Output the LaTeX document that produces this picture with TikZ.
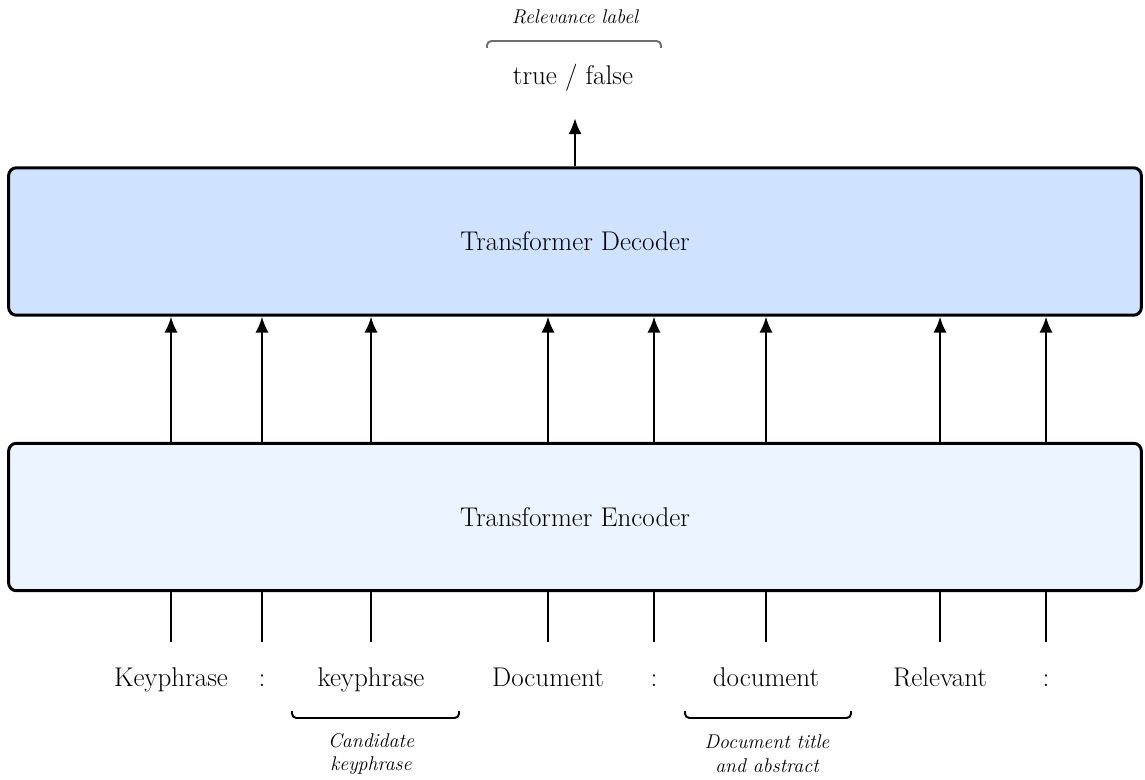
\documentclass[tikz,border=0pt]{standalone}
\usepackage{fontspec}
\usepackage{tikz}
\usetikzlibrary{arrows.meta}

\definecolor{decfill}{RGB}{207,226,255}
\definecolor{encfill}{RGB}{236,244,255}
\definecolor{bracketgray}{RGB}{110,110,110}

\begin{document}
\begin{tikzpicture}[x=0.02cm,y=-0.02cm,>={Latex[length=9pt,width=7.5pt]},
	block/.style={draw, line width=1.7pt, rounded corners=4.5pt, minimum width=22.66cm, minimum height=2.95cm, font=\fontsize{15.4}{18}\selectfont},
	token/.style={minimum height=1.52cm, inner sep=0pt, text height=11pt, text depth=3.5pt, font=\fontsize{15.4}{18}\selectfont},
	note/.style={align=center, inner sep=0pt, font=\fontsize{11.3}{13.6}\itshape\selectfont},
	bracket/.style={line width=1.1pt, rounded corners=2.5pt},
	link/.style={line width=1.1pt}]
				\useasboundingbox (0,0) rectangle (1145,780);

				\node[block, fill=decfill]   (dec) at (575,241.5)  {Transformer Decoder};
				\node[block, fill=encfill]   (enc) at (575,517)    {Transformer Encoder};

				\node[token]         (t1) at (171,680)   {Keyphrase};
				\node[token]         (t2) at (262,680)   {:};
				\node[token]         (t3) at (371,680)   {keyphrase};
				\node[token]         (t4) at (548,680)   {Document};
				\node[token]         (t5) at (654,680)   {:};
				\node[token]         (t6) at (766,680)   {document};
				\node[token]         (t7) at (940,680)   {Relevant};
				\node[token]         (t8) at (1046,680)  {:};

				\node[token, minimum height=1.6cm] (out) at (573,78) {true / false};

				\node[note]          (relnote)  at (575,17)   {Relevance label};
				\node[note]          (candnote) at (371,754)  {Candidate\\keyphrase};
				\node[note]          (docnote)  at (767,754)  {Document title\\and abstract};

				% token inputs into the encoder, encoder outputs into the decoder
				\foreach \t in {t1,t2,t3,t4,t5,t6,t7,t8} {
					\draw[link] (\t.north) -- (\t.north |- enc.south);
					\draw[link,->] (\t |- enc.north) -- (\t |- dec.south);
				}

				\draw[link,->] (dec.north) -- (dec.north |- out.south);

				% brackets
				\draw[bracket] (292,711) |- (459,718) -- (459,711);
				\draw[bracket] (685,711) |- (851,718) -- (851,711);
				\draw[bracket, draw=bracketgray] (487,48) |- (661,41) -- (661,48);

\end{tikzpicture}
\end{document}
